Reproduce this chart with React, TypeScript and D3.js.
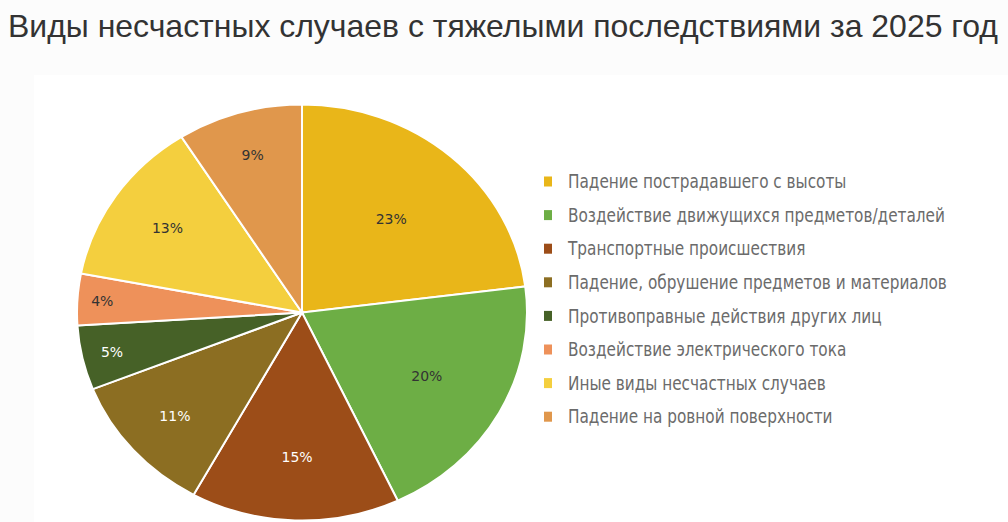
import React, { useEffect, useRef } from 'react';
import * as d3 from 'd3';

const categories = [
  'Падение пострадавшего с высоты',
  'Воздействие движущихся предметов/деталей',
  'Транспортные происшествия',
  'Падение, обрушение предметов и материалов',
  'Противоправные действия других лиц',
  'Воздействие электрического тока',
  'Иные виды несчастных случаев',
  'Падение на ровной поверхности',
];
const values = [23, 20, 15, 11, 5, 4, 13, 9];
const colors = ['#E9B619', '#6DAE45', '#9C4D18', '#8C6E22', '#466127', '#EE915A', '#F4CF3E', '#E0974C'];
const labelColors = ['#333', '#333', '#fff', '#fff', '#fff', '#333', '#333', '#333'];
const title = 'Виды несчастных случаев с тяжелыми последствиями за 2025 год';

const W = 1008;
const H = 522;

const App: React.FC = () => {
  const svgRef = useRef<SVGSVGElement>(null);

  useEffect(() => {
    if (!svgRef.current) return;
    const svg = d3.select(svgRef.current);
    svg.selectAll('*').remove();

    svg.append('rect').attr('width', W).attr('height', H).attr('fill', '#fcfcfc');
    svg.append('rect').attr('x', 34).attr('y', 75).attr('width', W - 34).attr('height', H - 75).attr('fill', '#fff');

    svg.append('text')
      .attr('x', 8)
      .attr('y', 37)
      .attr('font-family', 'Liberation Sans, Arial, sans-serif')
      .attr('font-size', 32)
      .attr('textLength', 990)
      .attr('lengthAdjust', 'spacingAndGlyphs')
      .attr('fill', '#333')
      .text(title);

    const cx = 302, cy = 312.5, r = 208, sx = 225 / 208;
    const total = d3.sum(values);
    const pie = d3.pie<number>().sort(null).value(d => d);
    const arcs = pie(values);
    const arc = d3.arc<d3.PieArcDatum<number>>().innerRadius(0).outerRadius(r);
    // smaller slices push their label further out
    const labelR = (d: d3.PieArcDatum<number>) => r * Math.min(0.92, 1.097 - 1.037 * Math.sqrt(d.data / total));

    const g = svg.append('g').attr('transform', `translate(${cx},${cy})`);
    const gs = g.append('g').attr('transform', `scale(${sx},1)`);

    gs.selectAll('path')
      .data(arcs)
      .enter()
      .append('path')
      .attr('d', arc)
      .attr('fill', (_, i) => colors[i])
      .attr('stroke', '#fff')
      .attr('stroke-width', 2)
      .attr('vector-effect', 'non-scaling-stroke');

    g.selectAll('text')
      .data(arcs)
      .enter()
      .append('text')
      .attr('x', d => {
        const a = (d.startAngle + d.endAngle) / 2;
        return Math.sin(a) * labelR(d) * sx;
      })
      .attr('y', d => {
        const a = (d.startAngle + d.endAngle) / 2;
        return -Math.cos(a) * labelR(d);
      })
      .attr('dy', '0.35em')
      .attr('text-anchor', 'middle')
      .attr('font-family', 'DejaVu Sans, sans-serif')
      .attr('font-size', 14)
      .attr('fill', (_, i) => labelColors[i])
      .text(d => `${d.data}%`);

    const legend = svg.append('g').attr('transform', 'translate(544,181.5)');
    const rows = legend.selectAll('g')
      .data(categories)
      .enter()
      .append('g')
      .attr('transform', (_, i) => `translate(0,${i * 33.6})`);
    rows.append('rect')
      .attr('x', 0)
      .attr('y', -5)
      .attr('width', 8)
      .attr('height', 10)
      .attr('fill', (_, i) => colors[i]);
    rows.append('text')
      .attr('transform', 'translate(24,0) scale(0.895,1)')
      .attr('dy', '0.35em')
      .attr('font-family', 'DejaVu Sans Condensed, DejaVu Sans, sans-serif')
      .attr('font-stretch', 'condensed')
      .attr('font-size', 19)
      .attr('fill', '#6b6b6b')
      .text(d => d);
  }, []);

  return (
    <div style={{ position: 'fixed', left: 0, top: 0, width: W, height: H }}>
      <svg ref={svgRef} width={W} height={H} style={{ display: 'block' }} />
    </div>
  );
};

export default App;
